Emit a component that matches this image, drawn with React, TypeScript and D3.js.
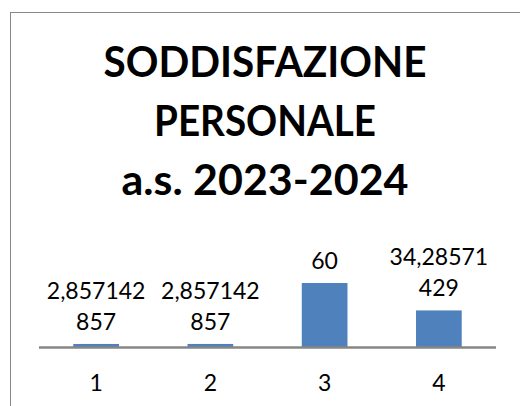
import React from "react";
import * as d3 from "d3";

const categories = ["1", "2", "3", "4"];
const values = [2.857142857, 2.857142857, 60, 34.28571429];
const titleLines = ["SODDISFAZIONE", "PERSONALE", "a.s. 2023-2024"];

const W = 520;
const H = 406;
const FONT = "Lato, 'Open Sans', sans-serif";
const TITLE_WIDTHS = [323, 222, 287];
const TITLE_BASES = [77, 136, 195];

function formatLabel(v: number): string[] {
  const s = String(v).replace(".", ",");
  const out: string[] = [];
  for (let i = 0; i < s.length; i += 8) out.push(s.slice(i, i + 8));
  return out;
}

export default function App() {
  const x = d3
    .scaleBand<string>()
    .domain(categories)
    .range([39, 496])
    .paddingInner(0.6)
    .paddingOuter(0.3);
  const y = d3.scaleLinear().domain([0, 60]).range([347, 283]);
  const axisY = 347.5;

  return (
    <svg
      width={W}
      height={H}
      style={{ position: "absolute", left: 0, top: 0, background: "#fff" }}
      fontFamily={FONT}
    >
      <rect x={0} y={0} width={W} height={H} fill="#fff" />
      <rect x={10.5} y={12.5} width={700} height={600} fill="none" stroke="#888888" strokeWidth={1} />
      {titleLines.map((t, i) => (
        <text
          key={t}
          x={265}
          y={TITLE_BASES[i]}
          textAnchor="middle"
          fontWeight="bold"
          fontSize={42}
          textLength={TITLE_WIDTHS[i]}
          lengthAdjust="spacingAndGlyphs"
          fill="#000"
        >
          {t}
        </text>
      ))}
      {values.map((v, i) => {
        const c = categories[i];
        const x0 = x(c) as number;
        return (
          <rect
            key={"b" + c}
            x={x0}
            y={y(v)}
            width={x.bandwidth()}
            height={axisY - y(v)}
            fill="#4F81BD"
          />
        );
      })}
      <line x1={39} x2={496} y1={axisY} y2={axisY} stroke="#868686" strokeWidth={2.5} />
      {values.map((v, i) => {
        const c = categories[i];
        const cx = (x(c) as number) + x.bandwidth() / 2;
        const lines = formatLabel(v);
        const lastBase = y(v) - 14;
        return lines.map((ln, j) => (
          <text
            key={"l" + c + j}
            x={cx}
            y={lastBase - (lines.length - 1 - j) * 31}
            textAnchor="middle"
            fontSize={23}
            fill="#000"
          >
            {ln}
          </text>
        ));
      })}
      {categories.map((c) => (
        <text
          key={"t" + c}
          x={(x(c) as number) + x.bandwidth() / 2}
          y={391}
          textAnchor="middle"
          fontSize={23}
          fill="#000"
        >
          {c}
        </text>
      ))}
    </svg>
  );
}
